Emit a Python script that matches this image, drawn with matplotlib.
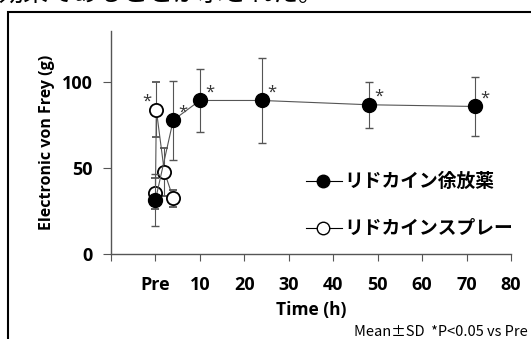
import numpy as np
import matplotlib.pyplot as plt
from matplotlib.patches import Rectangle

plt.rcParams['font.family'] = ['Open Sans', 'Noto Sans CJK JP', 'DejaVu Sans']

# slow-release lidocaine (filled)
sr_time = [0, 4, 10, 24, 48, 72]
sr_mean = [31.5, 78, 89.5, 89.5, 87, 86]
sr_sd = [15, 23, 18.5, 25, 13.5, 17]
sr_sig = [False, True, True, True, True, True]

# lidocaine spray (open)
sp_time = [0, 0.2, 2, 4]
sp_mean = [35.5, 84, 48, 32.5]
sp_sd = [9, 16, 14, 5]
sp_sig = [False, True, False, False]

xticks = [-10, 0, 10, 20, 30, 40, 50, 60, 70, 80]
xlabels = ['', 'Pre', '10', '20', '30', '40', '50', '60', '70', '80']
yticks = [0, 50, 100]

W, H = 531, 339
fig = plt.figure(figsize=(W / 100, H / 100), dpi=100)
ax = fig.add_axes([111 / W, 85 / H, 400 / W, 223 / H])

gray = '#555555'
ax.errorbar(sp_time, sp_mean, yerr=sp_sd, color=gray, lw=0.8, capsize=3,
            elinewidth=0.8, capthick=0.8, marker='o', ms=9.5,
            mfc='white', mec='black', mew=1.3, zorder=3)
ax.errorbar(sr_time, sr_mean, yerr=sr_sd, color=gray, lw=0.8, capsize=3,
            elinewidth=0.8, capthick=0.8, marker='o', ms=10,
            mfc='black', mec='black', mew=1.0, zorder=4)

for t, m, s in zip(sr_time, sr_mean, sr_sig):
    if s:
        ax.annotate('*', (t, m), xytext=(7, 0), textcoords='offset points',
                    ha='center', va='bottom', fontsize=12, color='#333333')
for t, m, s in zip(sp_time, sp_mean, sp_sig):
    if s:
        ax.annotate('*', (t, m), xytext=(-7, 0), textcoords='offset points',
                    ha='center', va='bottom', fontsize=12, color='#333333')

ax.set_xlim(-10, 80)
ax.set_ylim(0, 130)
ax.set_xticks(xticks)
ax.set_xticklabels(xlabels, fontsize=13, fontweight='bold')
ax.set_yticks(yticks)
ax.set_yticklabels([str(v) for v in yticks], fontsize=13, fontweight='bold')
ax.tick_params(axis='x', direction='out', length=5, pad=11, color=gray)
ax.tick_params(axis='y', direction='out', length=6, pad=7, color=gray)
for side in ['top', 'right']:
    ax.spines[side].set_visible(False)
for side in ['left', 'bottom']:
    ax.spines[side].set_color(gray)
    ax.spines[side].set_linewidth(1.0)

ax.set_xlabel('Time (h)', fontsize=12.5, fontweight='bold', labelpad=5)
ax.set_ylabel('Electronic von Frey (g)', fontsize=11.5, fontweight='bold', labelpad=5)

# legend drawn as text lines
legend_items = [('リドカイン徐放薬', 'black'), ('リドカインスプレー', 'white')]
for i, (label, fc) in enumerate(legend_items):
    y = 1 - (181 + i * 47) / H
    fig.lines.append(plt.Line2D([306 / W, 342 / W], [y, y], color='black', lw=0.8,
                                transform=fig.transFigure))
    fig.lines.append(plt.Line2D([323 / W], [y], marker='o', ms=9, mfc=fc, mec='black',
                                mew=1.0, transform=fig.transFigure))
    fig.text(344 / W, y, label, fontsize=13.5, fontweight='bold', va='center',
             family=['Noto Sans CJK JP', 'DejaVu Sans'])

fig.text(528 / W, 1 - 336.5 / H, 'Mean±SD  *P<0.05 vs Pre', fontsize=10.5, ha='right',
         va='baseline', family=['Noto Sans CJK JP', 'DejaVu Sans'])

# caption text cut off at top, and outer frame
fig.text(-2 / W, 1 - 1 / H, '効果であることが示された。', fontsize=18, va='baseline',
         family=['Noto Sans CJK JP', 'DejaVu Sans'])
fig.patches.append(Rectangle((8 / W, -0.05), 1.2, 1 - 12 / H + 0.05, fill=False,
                             ec='black', lw=1.5, transform=fig.transFigure))

fig.savefig('out.png', dpi=100)
